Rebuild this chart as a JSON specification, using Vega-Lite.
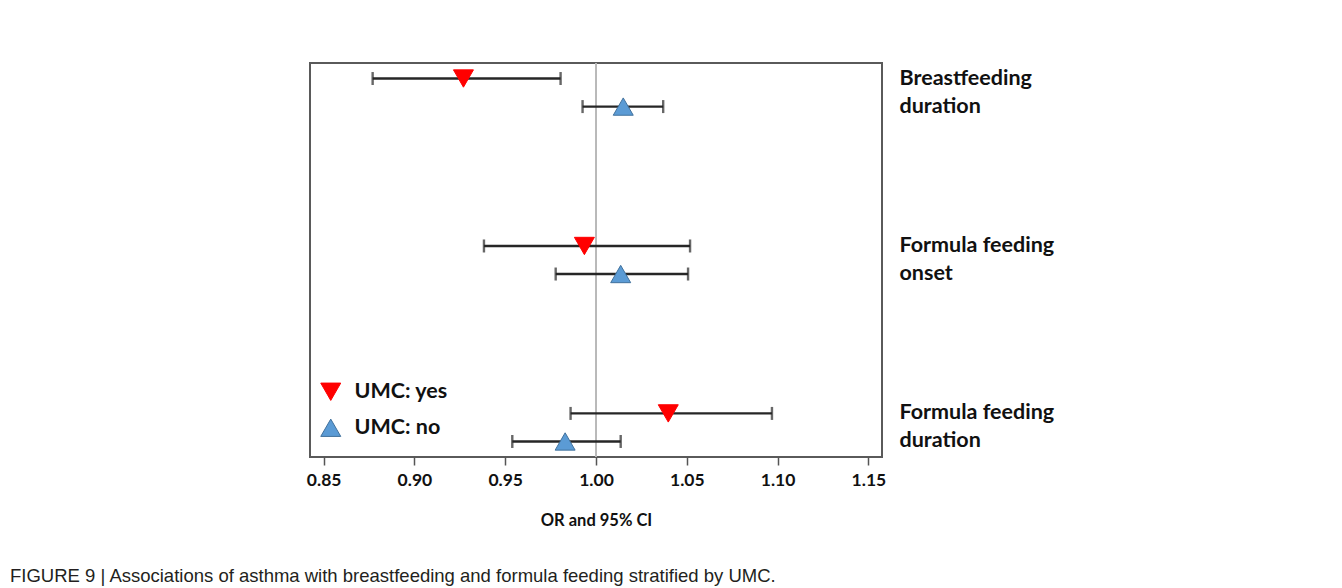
{
  "$schema": "https://vega.github.io/schema/vega-lite/v6.json",
  "width": 572,
  "height": 394,
  "autosize": {"type": "none"},
  "padding": {"left": 310, "top": 63, "right": 460, "bottom": 131},
  "background": "white",
  "title": {
    "text": "FIGURE 9 | Associations of asthma with breastfeeding and formula feeding stratified by UMC.",
    "orient": "bottom",
    "anchor": "start",
    "frame": "group",
    "dx": -300,
    "offset": 38,
    "font": "Liberation Sans",
    "fontSize": 18.5,
    "fontWeight": "normal",
    "color": "#231f20"
  },
  "data": {
    "values": [
      {"exposure": "Breastfeeding duration", "umc": "yes", "or": 0.927, "lo": 0.877, "hi": 0.9805},
      {"exposure": "Breastfeeding duration", "umc": "no", "or": 1.015, "lo": 0.9926, "hi": 1.037},
      {"exposure": "Formula feeding onset", "umc": "yes", "or": 0.9936, "lo": 0.9383, "hi": 1.0518},
      {"exposure": "Formula feeding onset", "umc": "no", "or": 1.0136, "lo": 0.9778, "hi": 1.0507},
      {"exposure": "Formula feeding duration", "umc": "yes", "or": 1.0398, "lo": 0.986, "hi": 1.0969},
      {"exposure": "Formula feeding duration", "umc": "no", "or": 0.983, "lo": 0.9539, "hi": 1.0136}
    ]
  },
  "layer": [
    {
      "mark": {"type": "rule", "color": "#b8b8b8", "strokeWidth": 1},
      "encoding": {
        "x": {"datum": 1, "type": "quantitative",
          "scale": {"domain": [0.8425, 1.1575], "zero": false, "nice": false},
          "axis": {"values": [0.85, 0.9, 0.95, 1.0, 1.05, 1.1, 1.15], "format": ".2f", "title": "OR and 95% CI",
            "domain": false, "grid": false, "tickSize": 8, "tickWidth": 1.5, "tickColor": "#555",
            "labelFontSize": 17.5, "labelPadding": 6, "titleFontSize": 16.5, "titlePadding": 24}}
      }
    },
    {
      "mark": {"type": "rule", "color": "#262626", "strokeWidth": 2.4},
      "encoding": {
        "y": {"field": "exposure", "type": "nominal",
          "sort": ["Breastfeeding duration", "Formula feeding onset", "Formula feeding duration"],
          "scale": {"paddingInner": 0.665, "paddingOuter": 0.009},
          "axis": {"orient": "right", "title": null, "ticks": false, "domain": false, "labelPadding": 17,
            "labelFontSize": 21.5, "labelLineHeight": 28, "labelAlign": "left", "labelBaseline": "middle", "labelLimit": 0, "labelOffset": -14,
            "labelExpr": "[slice(datum.value, 0, lastindexof(datum.value, ' ')), slice(datum.value, lastindexof(datum.value, ' ') + 1)]"}},
        "yOffset": {"field": "umc", "type": "nominal", "sort": ["yes", "no"], "scale": {"paddingInner": 0, "paddingOuter": 0}},
        "x": {"field": "lo", "type": "quantitative"},
        "x2": {"field": "hi"}
      }
    },
    {
      "mark": {"type": "tick", "color": "#262626", "thickness": 2.4, "size": 13, "orient": "vertical"},
      "encoding": {
        "y": {"field": "exposure", "type": "nominal", "sort": ["Breastfeeding duration", "Formula feeding onset", "Formula feeding duration"]},
        "yOffset": {"field": "umc", "type": "nominal", "sort": ["yes", "no"]},
        "x": {"field": "lo", "type": "quantitative"}
      }
    },
    {
      "mark": {"type": "tick", "color": "#262626", "thickness": 2.4, "size": 13, "orient": "vertical"},
      "encoding": {
        "y": {"field": "exposure", "type": "nominal", "sort": ["Breastfeeding duration", "Formula feeding onset", "Formula feeding duration"]},
        "yOffset": {"field": "umc", "type": "nominal", "sort": ["yes", "no"]},
        "x": {"field": "hi", "type": "quantitative"}
      }
    },
    {
      "mark": {"type": "point", "filled": true, "opacity": 1, "size": 400, "strokeWidth": 1},
      "encoding": {
        "y": {"field": "exposure", "type": "nominal", "sort": ["Breastfeeding duration", "Formula feeding onset", "Formula feeding duration"]},
        "yOffset": {"field": "umc", "type": "nominal", "sort": ["yes", "no"]},
        "x": {"field": "or", "type": "quantitative"},
        "color": {"field": "umc", "type": "nominal", "title": null,
          "scale": {"domain": ["yes", "no"], "range": ["#ff0000", "#5b9bd5"]},
          "legend": {"labelExpr": "'UMC: ' + datum.label"}},
        "shape": {"field": "umc", "type": "nominal", "title": null,
          "scale": {"domain": ["yes", "no"], "range": ["triangle-down", "triangle-up"]},
          "legend": {"labelExpr": "'UMC: ' + datum.label"}},
        "stroke": {"field": "umc", "type": "nominal", "title": null,
          "scale": {"domain": ["yes", "no"], "range": ["#ff0000", "#41719c"]},
          "legend": {"labelExpr": "'UMC: ' + datum.label"}}
      }
    }
  ],
  "config": {
    "view": {"stroke": "#5a5a5a", "strokeWidth": 2},
    "legend": {
      "orient": "none",
      "legendX": 10,
      "legendY": 318,
      "labelFont": "Lato",
      "labelFontWeight": "bold",
      "labelFontSize": 21.5,
      "labelColor": "#111",
      "symbolSize": 400,
      "symbolStrokeWidth": 1,
      "rowPadding": 13,
      "labelOffset": 13,
      "padding": 0
    },
    "axis": {
      "labelFont": "Lato",
      "labelFontWeight": "bold",
      "titleFont": "Lato",
      "titleFontWeight": "bold",
      "labelColor": "#111",
      "titleColor": "#111"
    }
  }
}
